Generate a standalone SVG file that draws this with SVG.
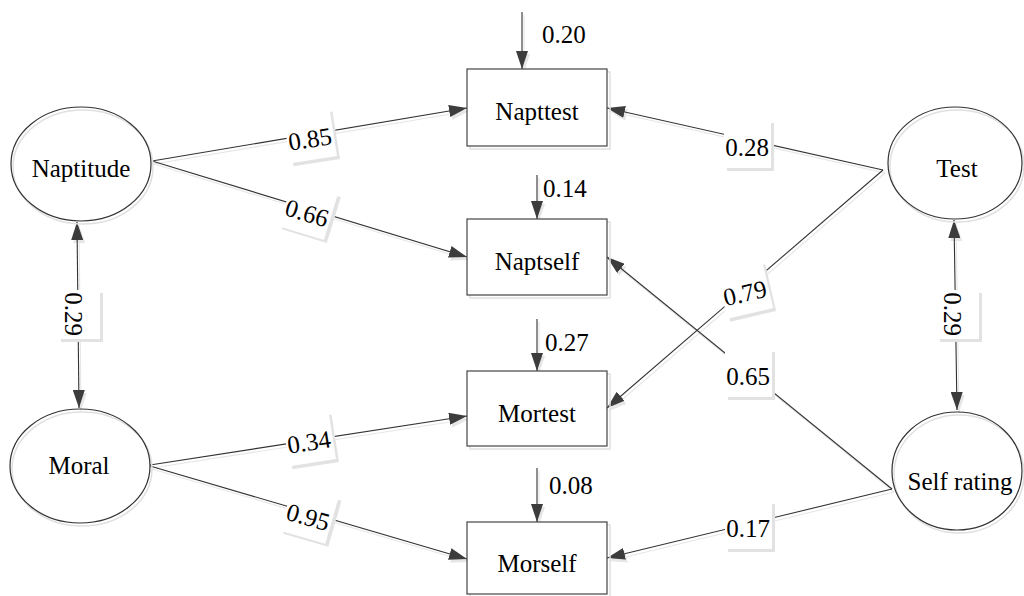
<svg xmlns="http://www.w3.org/2000/svg" xmlns:xlink="http://www.w3.org/1999/xlink" width="1024" height="596" viewBox="0 0 1024 596" font-family="'Liberation Serif', Tinos, 'DejaVu Serif', serif">
<style>
text{font-family:'Liberation Serif',Tinos,'DejaVu Serif',serif;font-size:25px;fill:#000}
.nl{text-anchor:middle}
.box{fill:#fff}
.bsh{fill:#e2e2e2}
.ell{fill:none;stroke:#333;stroke-width:1.2}
.esh{fill:none;stroke:#e0e0e0;stroke-width:1.5}
.rect{fill:#fff;stroke:#444;stroke-width:1.2}
.rsh{fill:none;stroke:#e0e0e0;stroke-width:1.5}
.edge{fill:none;stroke:#333;stroke-width:1.1}
</style>
<defs>
<marker id="ah" viewBox="0 0 18 12" refX="18" refY="6" markerWidth="18" markerHeight="12" markerUnits="userSpaceOnUse" orient="auto-start-reverse">
<path d="M0,0 L18,6 L0,12 Z" fill="#3c3c3c"/>
</marker>
<filter id="ghost" x="-5%" y="-5%" width="110%" height="110%">
<feFlood flood-color="#e6e6e6"/>
<feComposite in2="SourceAlpha" operator="in"/>
</filter>
</defs>
<rect width="1024" height="596" fill="#fff"/>

<use xlink:href="#edges" href="#edges" transform="translate(2,3)" filter="url(#ghost)"/>

<g id="edges">
<path class="edge" d="M152,161 L467,108" marker-end="url(#ah)"/>
<path class="edge" d="M152,161 L467,257" marker-end="url(#ah)"/>
<path class="edge" d="M150,465 L467,416" marker-end="url(#ah)"/>
<path class="edge" d="M150,466 L467,559" marker-end="url(#ah)"/>
<path class="edge" d="M883,170 L607,108" marker-end="url(#ah)"/>
<path class="edge" d="M883,170 L607,408" marker-end="url(#ah)"/>
<path class="edge" d="M892,489 L607,257" marker-end="url(#ah)"/>
<path class="edge" d="M892,489 L607,558" marker-end="url(#ah)"/>
<path class="edge" d="M77,222 L79,408" marker-start="url(#ah)" marker-end="url(#ah)"/>
<path class="edge" d="M954,220 L957,410" marker-start="url(#ah)" marker-end="url(#ah)"/>
<path class="edge" d="M522,12 L522,69" marker-end="url(#ah)"/>
<path class="edge" d="M537,175 L537,219" marker-end="url(#ah)"/>
<path class="edge" d="M537,319 L537,371" marker-end="url(#ah)"/>
<path class="edge" d="M537,468 L537,522" marker-end="url(#ah)"/>
</g>

<g id="labels">
<g transform="translate(313,142) rotate(-9)"><rect class="bsh" x="-23" y="-27" width="47" height="48"/></g>
<g transform="translate(310,139) rotate(-9)"><rect class="box" x="-23" y="-27" width="47" height="48"/><text class="nl" y="8.5">0.85</text></g>

<g transform="translate(310,216) rotate(17)"><rect class="bsh" x="-23" y="-27" width="47" height="48"/></g>
<g transform="translate(307,213) rotate(17)"><rect class="box" x="-23" y="-27" width="47" height="48"/><text class="nl" y="8.5">0.66</text></g>

<g transform="translate(750,150)"><rect class="bsh" x="-23" y="-27" width="47" height="48"/></g>
<g transform="translate(747,147)"><rect class="box" x="-23" y="-27" width="47" height="48"/><text class="nl" y="8.5">0.28</text></g>

<g transform="translate(748,296) rotate(-13)"><rect class="bsh" x="-23" y="-27" width="47" height="48"/></g>
<g transform="translate(745,293) rotate(-13)"><rect class="box" x="-23" y="-27" width="47" height="48"/><text class="nl" y="8.5">0.79</text></g>

<g transform="translate(751,379)"><rect class="bsh" x="-23" y="-27" width="47" height="48"/></g>
<g transform="translate(748,376)"><rect class="box" x="-23" y="-27" width="47" height="48"/><text class="nl" y="8.5">0.65</text></g>

<g transform="translate(312,445) rotate(-9)"><rect class="bsh" x="-23" y="-27" width="47" height="48"/></g>
<g transform="translate(309,442) rotate(-9)"><rect class="box" x="-23" y="-27" width="47" height="48"/><text class="nl" y="8.5">0.34</text></g>

<g transform="translate(311,520) rotate(16)"><rect class="bsh" x="-23" y="-27" width="47" height="48"/></g>
<g transform="translate(308,517) rotate(16)"><rect class="box" x="-23" y="-27" width="47" height="48"/><text class="nl" y="8.5">0.95</text></g>

<g transform="translate(751,531)"><rect class="bsh" x="-23" y="-27" width="47" height="48"/></g>
<g transform="translate(748,528)"><rect class="box" x="-23" y="-27" width="47" height="48"/><text class="nl" y="8.5">0.17</text></g>

<g transform="translate(76,317) rotate(90)"><rect class="bsh" x="-24" y="-27" width="49" height="42"/></g>
<g transform="translate(73,314) rotate(90)"><rect class="box" x="-24" y="-27" width="49" height="42"/><text class="nl" y="8.5">0.29</text></g>

<g transform="translate(955,317) rotate(90)"><rect class="bsh" x="-24" y="-27" width="49" height="42"/></g>
<g transform="translate(952,314) rotate(90)"><rect class="box" x="-24" y="-27" width="49" height="42"/><text class="nl" y="8.5">0.29</text></g>

<text x="542" y="43">0.20</text>
<text x="543" y="197">0.14</text>
<text x="545" y="351">0.27</text>
<text x="549" y="494">0.08</text>
</g>

<g id="Naptitude">
<ellipse class="esh" cx="83" cy="167" rx="70" ry="57"/>
<ellipse class="ell" cx="81" cy="164" rx="70" ry="57"/>
<text class="nl" x="81" y="177">Naptitude</text>
</g>
<g id="Moral">
<ellipse class="esh" cx="82" cy="469" rx="70" ry="57"/>
<ellipse class="ell" cx="80" cy="466" rx="70" ry="57"/>
<text class="nl" x="79" y="474">Moral</text>
</g>
<g id="Test">
<ellipse class="esh" cx="957" cy="166" rx="67" ry="56"/>
<ellipse class="ell" cx="955" cy="163" rx="67" ry="56"/>
<text class="nl" x="957" y="177">Test</text>
</g>
<g id="SelfRating">
<ellipse class="esh" cx="959" cy="474" rx="65" ry="59"/>
<ellipse class="ell" cx="957" cy="471" rx="65" ry="59"/>
<text class="nl" x="960" y="490">Self rating</text>
</g>

<g id="Napttest">
<rect class="rsh" x="470" y="72" width="140" height="77"/>
<rect class="rect" x="467" y="69" width="140" height="77"/>
<text class="nl" x="537" y="120">Napttest</text>
</g>
<g id="Naptself">
<rect class="rsh" x="470" y="222" width="140" height="76"/>
<rect class="rect" x="467" y="219" width="140" height="76"/>
<text class="nl" x="537" y="270">Naptself</text>
</g>
<g id="Mortest">
<rect class="rsh" x="470" y="374" width="140" height="75"/>
<rect class="rect" x="467" y="371" width="140" height="75"/>
<text class="nl" x="537" y="422">Mortest</text>
</g>
<g id="Morself">
<rect class="rsh" x="470" y="525" width="140" height="72"/>
<rect class="rect" x="467" y="522" width="140" height="72"/>
<text class="nl" x="537" y="572">Morself</text>
</g>
</svg>
